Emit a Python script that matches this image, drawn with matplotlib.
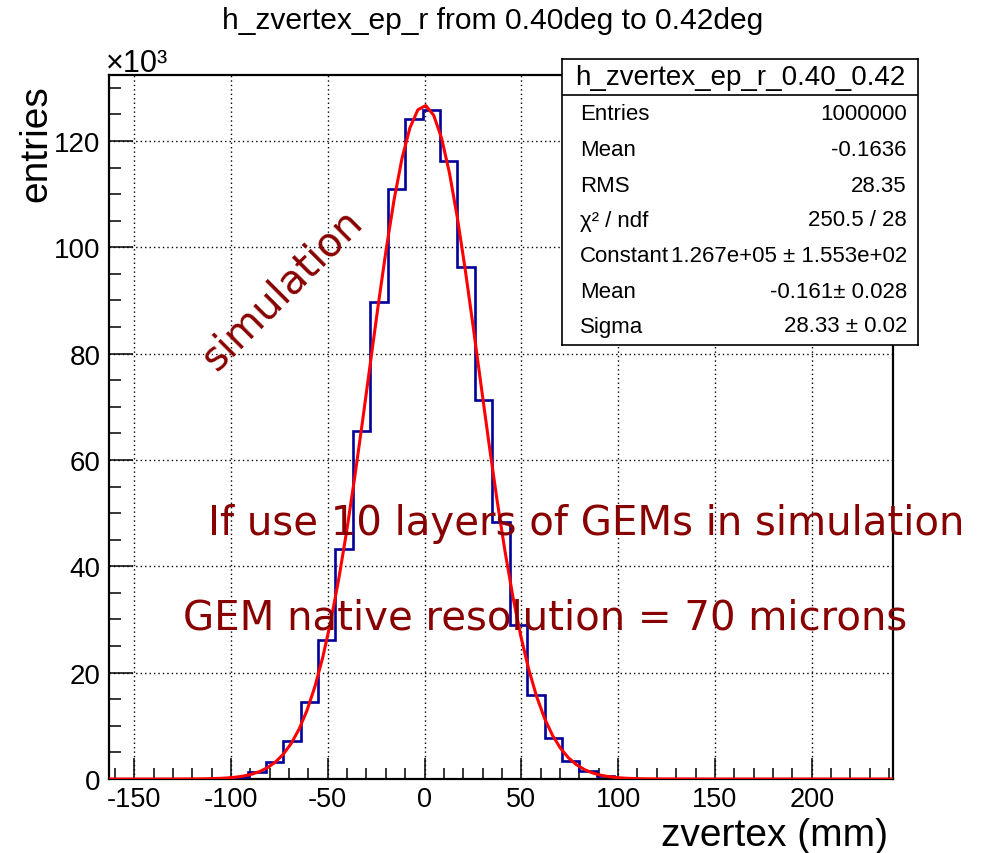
import numpy as np
import matplotlib
matplotlib.use("Agg")
import matplotlib.pyplot as plt
from matplotlib.ticker import MultipleLocator, FuncFormatter

plt.rcParams["axes.unicode_minus"] = False

# ---------------- data ----------------
bin_lo = -163.0
bin_width = 9.0
# histogram contents (entries per bin), 45 bins from -163 to 242
counts = [0, 0, 0, 0, 10, 40, 140, 450, 1350, 3250, 7150, 14500, 26200, 43300,
          65500, 89800, 111000, 124200, 125900, 116300, 96300, 71300, 48300,
          29000, 15800, 7800, 3350, 1450, 550, 180, 60, 15, 0, 0, 0, 0, 0, 0,
          0, 0, 0, 0, 0, 0, 0]
# gaussian fit parameters (from the stats box)
fit_constant = 1.267e5
fit_mean = -0.161
fit_sigma = 28.33

x_ticks = [-150, -100, -50, 0, 50, 100, 150, 200]
y_ticks = [0, 20000, 40000, 60000, 80000, 100000, 120000]

title = "h_zvertex_ep_r from 0.40deg to 0.42deg"
stats_title = "h_zvertex_ep_r_0.40_0.42"
stats_labels = ["Entries", "Mean", "RMS", "\u03c7\u00b2 / ndf", "Constant", "Mean", "Sigma"]
stats_values = ["1000000", "-0.1636", "28.35", "250.5 / 28",
                "1.267e+05 \u00b1 1.553e+02", "-0.161\u00b1 0.028", "28.33 \u00b1 0.02"]

# ---------------- figure ----------------
W, H = 985, 854
fig = plt.figure(figsize=(W / 100, H / 100), dpi=100)
fig.patch.set_facecolor("white")

def fx(px):
    return px / W

def fy(py):
    return 1 - py / H

regular = ["Liberation Sans", "DejaVu Sans"]

ax_l, ax_r, ax_t, ax_b = 109, 893, 76, 780
ax = fig.add_axes([fx(ax_l), fy(ax_b), fx(ax_r - ax_l), (ax_b - ax_t) / H])

edges = bin_lo + bin_width * np.arange(len(counts) + 1)
ax.stairs(counts, edges, color="#000099", lw=1.9, zorder=3)

xf = np.linspace(edges[0], edges[-1], 100)
yf = fit_constant * np.exp(-0.5 * ((xf - fit_mean) / fit_sigma) ** 2)
ax.plot(xf, yf, color="#ff0000", lw=2.2, zorder=4)

ax.set_xlim(edges[0], edges[-1])
ax.set_ylim(0, max(counts) * 1.0516)

ax.set_xticks(x_ticks)
ax.xaxis.set_minor_locator(MultipleLocator(10))
ax.set_yticks(y_ticks)
ax.yaxis.set_minor_locator(MultipleLocator(5000))
ax.yaxis.set_major_formatter(FuncFormatter(lambda v, p: f"{v/1000:g}"))

ax.grid(True, which="major", color="black", lw=1.0, linestyle=(0, (1, 2.2)))
ax.set_axisbelow(True)

for s in ax.spines.values():
    s.set_linewidth(1.6)
    s.set_color("black")

ax.tick_params(axis="x", which="major", direction="in", length=15, width=1.1,
               pad=5, top=False, labelsize=19.5)
ax.tick_params(axis="x", which="minor", direction="in", length=7.6, width=1.1, top=False)
ax.tick_params(axis="y", which="major", direction="in", length=17, width=1.1,
               pad=6, right=False, labelsize=20)
ax.tick_params(axis="y", which="minor", direction="in", length=8.5, width=1.1, right=False)
for lab in ax.get_xticklabels() + ax.get_yticklabels():
    lab.set_family(regular)

# axis titles
fig.text(fx(888), fy(846), "zvertex (mm)", ha="right", va="baseline",
         fontsize=28, family=regular)
fig.text(fx(36), fy(85), "entries", ha="center", va="top", rotation=90,
         fontsize=28, family=regular)
fig.text(fx(106), fy(72), "\u00d710\u00b3", ha="left", va="baseline",
         fontsize=22, family=regular)

# title
fig.text(fx(493), fy(21), title, ha="center", va="center", fontsize=21.6, family=regular)

# annotations
red = "#880000"
fig.text(fx(283), fy(290), "simulation", rotation=45, rotation_mode="anchor",
         ha="center", va="center", color=red, fontsize=29, family="DejaVu Sans")
fig.text(fx(208), fy(535), "If use 10 layers of GEMs in simulation", ha="left",
         va="baseline", color=red, fontsize=29, family="DejaVu Sans")
fig.text(fx(183), fy(630), "GEM native resolution = 70 microns", ha="left",
         va="baseline", color=red, fontsize=29, family="DejaVu Sans")

# stats box
bx0, bx1, by0, by1 = 562, 918, 60, 346
box = fig.add_axes([fx(bx0), fy(by1), fx(bx1 - bx0), (by1 - by0) / H])
box.set_xticks([])
box.set_yticks([])
box.set_facecolor("white")
for s in box.spines.values():
    s.set_linewidth(1.2)
sep = 1 - (96 - by0) / (by1 - by0)
box.axhline(sep, color="black", lw=1.2)
box.text(0.5, 1 - (78 - by0) / (by1 - by0), stats_title, ha="center", va="center",
         fontsize=20, family=regular, transform=box.transAxes)
row_y = [114, 150, 186, 221, 257, 292, 327]
for lab, val, yy in zip(stats_labels, stats_values, row_y):
    yrel = 1 - (yy - by0) / (by1 - by0)
    box.text((580 - bx0) / (bx1 - bx0), yrel, lab, ha="left", va="center",
             fontsize=16, family=regular, transform=box.transAxes)
    box.text((907 - bx0) / (bx1 - bx0), yrel, val, ha="right", va="center",
             fontsize=16, family=regular, transform=box.transAxes)

fig.savefig("out.png", dpi=100, facecolor="white")
